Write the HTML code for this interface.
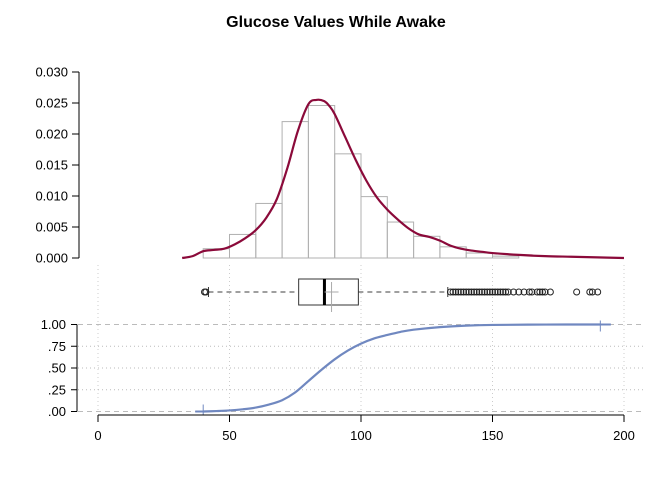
<!DOCTYPE html>
<html><head><meta charset="utf-8"><style>
body{margin:0;background:#fff;font-family:"Liberation Sans",Arial,sans-serif}
svg text{font-family:"Liberation Sans",Arial,sans-serif}
</style></head><body>
<svg id="c" width="672" height="480" xmlns="http://www.w3.org/2000/svg"></svg>
<script>
const histBins=[40,50,60,70,80,90,100,110,120,130,140,150];
const histDens=[0.0015,0.0038,0.0088,0.022,0.0246,0.0168,0.0099,0.0058,0.0035,0.0018,0.0008,0.0003];
const densX=[32,36,40,44,48,52,56,60,64,68,72,76,80,83,86,88,90,94,98,102,106,110,114,118,122,126,130,134,138,142,146,150,160,170,180,190,200];
const densY=[0,0.0003,0.0011,0.0013,0.0015,0.0022,0.0032,0.0045,0.0065,0.0095,0.0145,0.0205,0.0248,0.0255,0.0253,0.0245,0.0232,0.0195,0.0158,0.0125,0.0098,0.0078,0.0062,0.0048,0.0038,0.0034,0.0028,0.002,0.0015,0.0012,0.001,0.0008,0.0005,0.0003,0.0002,0.0001,0];
const boxStats=[42,76.3,86.1,99,133];
const boxMean=[88.8];
const outliers=[40.5,41,134,135,136,137,138,139,140,141,142,143,144,145,146,147,148,149,150,151,152,153,154,155,156,158,160,162,164,165,167,168,169,170,172,182,187,188,190];
const ecdfX=[40,45,50,55,60,65,70,75,80,85,90,95,100,105,110,115,120,130,140,150,170,191];
const ecdfY=[0,0.005,0.012,0.025,0.045,0.08,0.13,0.22,0.35,0.48,0.6,0.7,0.78,0.84,0.88,0.915,0.94,0.97,0.987,0.995,0.999,1];
const xTicks=[0,50,100,150,200];
const hTicks=[0,0.005,0.01,0.015,0.02,0.025,0.03];
const hLabels=["0.000","0.005","0.010","0.015","0.020","0.025","0.030"];
const eTicks=[0,0.25,0.5,0.75,1];
const eLabels=[".00",".25",".50",".75","1.00"];

const S=document.getElementById('c');const NS='http://www.w3.org/2000/svg';
function mk(t,a,p){const e=document.createElementNS(NS,t);for(const k in a)e.setAttribute(k,a[k]);(p||S).appendChild(e);return e;}
const X=v=>98+v*2.63;
const HY=v=>258-v*6200;
const EY=v=>411.5-v*87;
function smooth(pts){let d='M'+pts[0][0]+' '+pts[0][1];
 for(let i=0;i<pts.length-1;i++){const p0=pts[Math.max(0,i-1)],p1=pts[i],p2=pts[i+1],p3=pts[Math.min(pts.length-1,i+2)];
  const c1x=p1[0]+(p2[0]-p0[0])/6,c1y=p1[1]+(p2[1]-p0[1])/6,c2x=p2[0]-(p3[0]-p1[0])/6,c2y=p2[1]-(p3[1]-p1[1])/6;
  d+=`C${c1x} ${c1y} ${c2x} ${c2y} ${p2[0]} ${p2[1]}`;}return d;}

let t=mk('text',{x:336,y:27,'text-anchor':'middle','font-size':16,'font-weight':'bold'});t.textContent='Glucose Values While Awake';


let g=mk('g',{});
mk('line',{x1:79,x2:79,y1:HY(0),y2:HY(0.03),stroke:'#000'},g);
hTicks.forEach((v,i)=>{mk('line',{x1:72,x2:79,y1:HY(v),y2:HY(v),stroke:'#000'},g);
 const tx=mk('text',{x:68,y:HY(v)+4.5,'text-anchor':'end','font-size':13},g);tx.textContent=hLabels[i];});
g=mk('g',{});
histBins.forEach((b,i)=>{const r=mk('rect',{x:X(b),y:HY(histDens[i]),width:X(b+10)-X(b),height:HY(0)-HY(histDens[i]),fill:'none',stroke:'#b0b0b0','stroke-width':1},g);
 });
mk('line',{x1:X(40),x2:X(160),y1:HY(0),y2:HY(0),stroke:'#b0b0b0'},g);
let p=mk('path',{d:smooth(densX.map((x,i)=>[X(x),HY(densY[i])])),fill:'none',stroke:'#8b0a3a','stroke-width':2.2,'stroke-linejoin':'round'});


g=mk('g',{});
xTicks.forEach(v=>mk('line',{x1:X(v),x2:X(v),y1:265,y2:413,stroke:'#ccc','stroke-dasharray':'1 3'},g));
eTicks.forEach(v=>mk('line',{x1:78,x2:645,y1:EY(v),y2:EY(v),stroke:'#bbb','stroke-dasharray':(v==0||v==1)?'5 4':'1 3'},g));

g=mk('g',{});
const by=292;
mk('line',{x1:X(boxStats[0]),x2:X(boxStats[1]),y1:by,y2:by,stroke:'#666','stroke-dasharray':'5 4','stroke-width':1.3},g);
mk('line',{x1:X(boxStats[3]),x2:X(boxStats[4]),y1:by,y2:by,stroke:'#666','stroke-dasharray':'5 4','stroke-width':1.3},g);
mk('line',{x1:X(boxStats[0]),x2:X(boxStats[0]),y1:by-5,y2:by+5,stroke:'#333'},g);
mk('line',{x1:X(boxStats[4]),x2:X(boxStats[4]),y1:by-5,y2:by+5,stroke:'#333'},g);
mk('rect',{x:X(boxStats[1]),y:279,width:X(boxStats[3])-X(boxStats[1]),height:26,fill:'#fff',stroke:'#333'},g);
mk('line',{x1:X(boxStats[2]),x2:X(boxStats[2]),y1:279,y2:305,stroke:'#000','stroke-width':3},g);
mk('line',{x1:X(boxMean[0]),x2:X(boxMean[0]),y1:282,y2:312,stroke:'#aaa'},g);
mk('line',{x1:X(boxMean[0])-7,x2:X(boxMean[0])+7,y1:by,y2:by,stroke:'#aaa'},g);
outliers.forEach(v=>{const c=mk('circle',{cx:X(v),cy:by,r:3,fill:'none',stroke:'#222','stroke-width':1},g);
 });

g=mk('g',{});
mk('line',{x1:77,x2:77,y1:EY(0),y2:EY(1),stroke:'#000'},g);
eTicks.forEach((v,i)=>{mk('line',{x1:71,x2:77,y1:EY(v),y2:EY(v),stroke:'#000'},g);
 const tx=mk('text',{x:66,y:EY(v)+4.5,'text-anchor':'end','font-size':13},g);tx.textContent=eLabels[i];});
p=mk('path',{d:smooth(ecdfX.map((x,i)=>[X(x),EY(ecdfY[i])])),fill:'none',stroke:'#7088c0','stroke-width':2.2});

mk('line',{x1:X(ecdfX[0])-8,x2:X(ecdfX[0]),y1:EY(0),y2:EY(0),stroke:'#7088c0','stroke-width':2});
mk('line',{x1:X(ecdfX[0]),x2:X(ecdfX[0]),y1:EY(0)-7,y2:EY(0)+4,stroke:'#7088c0'});
mk('line',{x1:X(191),x2:X(195),y1:EY(1),y2:EY(1),stroke:'#7088c0','stroke-width':2});
mk('line',{x1:X(191),x2:X(191),y1:EY(1)-4,y2:EY(1)+7,stroke:'#7088c0'});

g=mk('g',{});
mk('line',{x1:X(0),x2:X(200),y1:415,y2:415,stroke:'#000'},g);
xTicks.forEach(v=>{mk('line',{x1:X(v),x2:X(v),y1:415,y2:422,stroke:'#000'},g);
 const tx=mk('text',{x:X(v),y:440,'text-anchor':'middle','font-size':13},g);tx.textContent=v;});
</script>
</body></html>
